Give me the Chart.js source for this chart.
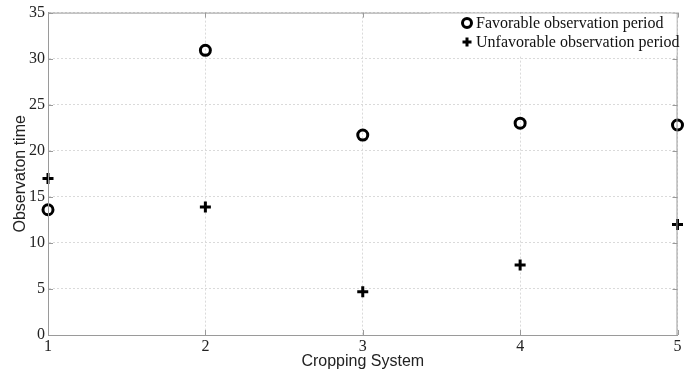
<!DOCTYPE html>
<html>
<head>
<meta charset="utf-8">
<script src="https://cdn.jsdelivr.net/npm/chart.js@4/dist/chart.umd.min.js"></script>
<style>
  html, body { margin: 0; padding: 0; background: #fff; }
  #wrap { width: 686px; height: 373px; position: relative; }
</style>
</head>
<body>
<div id="wrap"><canvas id="chart"></canvas></div>
<script>
const croppingSystems = [1, 2, 3, 4, 5];
const favorableTimes = [13.6, 30.9, 21.7, 23.0, 22.8];
const unfavorableTimes = [17.0, 13.9, 4.7, 7.6, 12.0];
const yTicks = [0, 5, 10, 15, 20, 25, 30, 35];

const seriesLabels = ['Favorable observation period', 'Unfavorable observation period'];

const toPoints = (values) => croppingSystems.map((x, i) => ({ x, y: values[i] }));

// box around the plot with small inward tick marks
const frame = {
  id: 'frame',
  afterDatasetsDraw(chart) {
    const { ctx, chartArea: a, scales } = chart;
    ctx.save();
    ctx.strokeStyle = '#9a9a9a';
    ctx.lineWidth = 1;
    ctx.strokeRect(a.left + 0.5, a.top + 0.5, a.right - a.left - 1, a.bottom - a.top);
    ctx.beginPath();
    scales.x.ticks.forEach((t) => {
      const px = Math.round(scales.x.getPixelForValue(t.value)) + 0.5;
      ctx.moveTo(px, a.bottom); ctx.lineTo(px, a.bottom - 5);
      ctx.moveTo(px, a.top); ctx.lineTo(px, a.top + 5);
    });
    scales.y.ticks.forEach((t) => {
      const py = Math.round(scales.y.getPixelForValue(t.value)) + 0.5;
      ctx.moveTo(a.left, py); ctx.lineTo(a.left + 5, py);
      ctx.moveTo(a.right, py); ctx.lineTo(a.right - 5, py);
    });
    ctx.stroke();
    ctx.restore();
  },
};

// legend sits inside the top-right corner of the plot
const innerLegend = {
  id: 'innerLegend',
  afterDraw(chart) {
    const { ctx, chartArea: a } = chart;
    ctx.save();
    ctx.fillStyle = '#fff';
    ctx.fillRect(430, a.top + 1, a.right - 431, 42);
    ctx.font = '16px "Liberation Serif", "Times New Roman", serif';
    ctx.textBaseline = 'middle';
    chart.data.datasets.forEach((ds, i) => {
      const y = 23 + i * 19;
      ctx.fillStyle = '#fff';
      ctx.strokeStyle = '#000';
      ctx.lineWidth = 3;
      Chart.helpers.drawPoint(ctx, {
        pointStyle: ds.pointStyle,
        radius: 4.5,
        borderWidth: 3,
        rotation: 0,
      }, 467, y);
      ctx.fillStyle = '#111';
      ctx.fillText(ds.label, 476, y + 1);
    });
    ctx.restore();
  },
};

new Chart(document.getElementById('chart'), {
  type: 'scatter',
  data: {
    datasets: [
      {
        label: seriesLabels[0],
        data: toPoints(favorableTimes),
        pointStyle: 'circle',
        pointRadius: 5,
        pointHoverRadius: 5,
        pointBorderWidth: 3,
        borderColor: '#000',
        backgroundColor: 'rgba(0,0,0,0)',
        pointBackgroundColor: 'rgba(0,0,0,0)',
        clip: false,
      },
      {
        label: seriesLabels[1],
        data: toPoints(unfavorableTimes),
        pointStyle: 'cross',
        pointRadius: 5.5,
        pointHoverRadius: 5.5,
        pointBorderWidth: 3,
        borderColor: '#000',
        backgroundColor: '#000',
        clip: false,
      },
    ],
  },
  options: {
    responsive: true,
    maintainAspectRatio: false,
    animation: false,
    layout: { padding: { top: 12, right: 3, left: 0, bottom: 0 } },
    plugins: {
      legend: { display: false },
      tooltip: { enabled: false },
    },
    scales: {
      x: {
        type: 'linear',
        min: 1,
        max: 5,
        afterFit: (scale) => { scale.height = 38; },
        ticks: {
          stepSize: 1,
          padding: 2,
          color: '#222',
          font: { family: '"Liberation Serif", "Times New Roman", serif', size: 16 },
        },
        grid: { color: '#dadada', tickLength: 0, lineWidth: 1 },
        border: { color: '#9a9a9a', dash: [2, 2] },
        title: {
          display: true,
          text: 'Cropping System',
          color: '#222',
          padding: { top: 0, bottom: 2 },
          font: { family: '"Liberation Sans", Arial, sans-serif', size: 16 },
        },
      },
      y: {
        min: 0,
        max: 35,
        afterFit: (scale) => { scale.width = 48; },
        afterBuildTicks: (scale) => { scale.ticks = yTicks.map((v) => ({ value: v })); },
        ticks: {
          padding: 3,
          color: '#222',
          font: { family: '"Liberation Serif", "Times New Roman", serif', size: 16 },
        },
        grid: { color: '#dadada', tickLength: 0, lineWidth: 1 },
        border: { color: '#9a9a9a', dash: [2, 2] },
        title: {
          display: true,
          text: 'Observaton time',
          color: '#222',
          padding: { top: 11, bottom: 0 },
          font: { family: '"Liberation Sans", Arial, sans-serif', size: 16 },
        },
      },
    },
  },
  plugins: [frame, innerLegend],
});
</script>
</body>
</html>
